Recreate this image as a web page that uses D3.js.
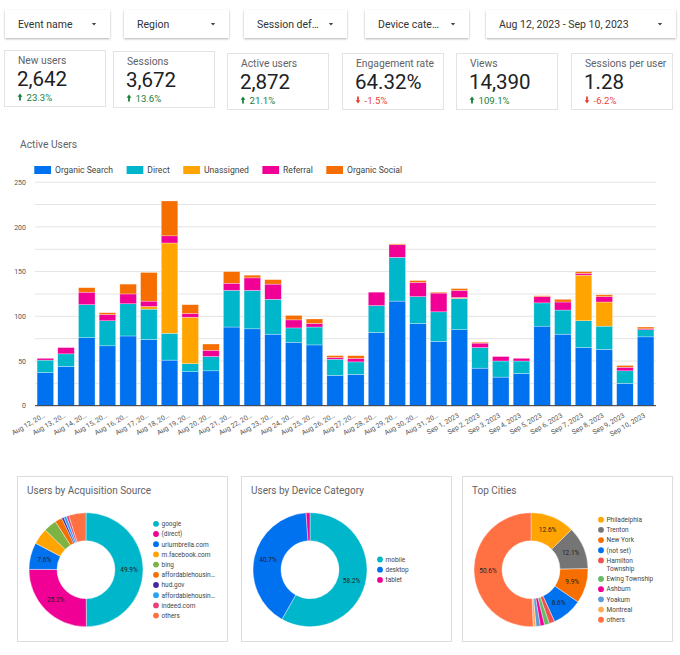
<!DOCTYPE html>
<html>
<head>
<meta charset="utf-8">
<script src="https://cdn.jsdelivr.net/npm/d3@7"></script>
<style>
  body { margin: 0; background: #fff; }
  svg { font-family: Roboto, "Noto Sans", sans-serif; }
</style>
</head>
<body>
<svg id="dash" width="680" height="655"></svg>
<script>
/* ---- data ---- */
const filterLabels = ["Event name", "Region", "Session def…", "Device cate…", "Aug 12, 2023 - Sep 10, 2023"];

const kpiNames = ["New users", "Sessions", "Active users", "Engagement rate", "Views", "Sessions per user"];
const kpiValues = ["2,642", "3,672", "2,872", "64.32%", "14,390", "1.28"];
const kpiDeltas = [23.3, 13.6, 21.1, -1.5, 109.1, -6.2];

const dates = ["Aug 12, 20…", "Aug 13, 20…", "Aug 14, 20…", "Aug 15, 20…", "Aug 16, 20…", "Aug 17, 20…",
  "Aug 18, 20…", "Aug 19, 20…", "Aug 20, 20…", "Aug 21, 20…", "Aug 22, 20…", "Aug 23, 20…", "Aug 24, 20…",
  "Aug 25, 20…", "Aug 26, 20…", "Aug 27, 20…", "Aug 28, 20…", "Aug 29, 20…", "Aug 30, 20…", "Aug 31, 20…",
  "Sep 1, 2023", "Sep 2, 2023", "Sep 3, 2023", "Sep 4, 2023", "Sep 5, 2023", "Sep 6, 2023", "Sep 7, 2023",
  "Sep 8, 2023", "Sep 9, 2023", "Sep 10, 2023"];
const channels = ["Organic Search", "Direct", "Unassigned", "Referral", "Organic Social"];
const organicSearch = [37,44,76,67,78,74,51,38,39,88,86,80,71,68,34,35,82,117,92,72,85,42,32,36,89,80,65,63,25,77];
const direct        = [14,14,37,28,36,34,30, 9,16,41,43,39,16,20,18,14,30,49,30,33,35,23,18,14,26,27,30,26,14, 8];
const unassigned    = [ 0, 0, 0, 0, 0, 3,101,52,0, 0, 0, 0, 0, 0, 0, 0, 0, 0, 0, 0, 1, 0, 0, 0, 0, 0,51,27, 0, 0];
const referral      = [ 2, 7,14, 7,11, 6, 8, 4, 7, 8,14,17, 9, 4, 2, 4,15,14,16,21, 8, 5, 5, 3, 7, 9, 2, 6, 4, 1];
const organicSocial = [ 0, 0, 5, 2,11,32,39,10, 7,13, 3, 5, 5, 5, 2, 3, 0, 1, 2, 1, 2, 1, 0, 0, 1, 3, 2, 2, 2, 2];
const yTicks = [0, 50, 100, 150, 200, 250];

const sourceNames = ["google", "(direct)", "urlumbrella.com", "m.facebook.com", "bing", "affordablehousin…",
  "hud.gov", "affordablehousin…", "indeed.com", "others"];
const sourceShares = [49.9, 25.2, 7.6, 4.6, 3.7, 2.0, 0.6, 0.8, 0.7, 4.9];

const deviceNames = ["mobile", "desktop", "tablet"];
const deviceShares = [58.2, 40.7, 1.1];

const cityNames = ["Philadelphia", "Trenton", "New York", "(not set)", "Hamilton Township", "Ewing Township",
  "Ashburn", "Yoakum", "Montreal", "others"];
const cityShares = [12.6, 12.1, 9.9, 8.6, 1.6, 1.4, 1.2, 1.2, 0.8, 50.6];

/* ---- palettes ---- */
const channelColors = ["#0072f0", "#00b6cb", "#ffa400", "#f10096", "#f66d00"];
const sourceColors = ["#00b6cb", "#f10096", "#0072f0", "#ffa400", "#7cb342", "#f66d00", "#4527a0", "#29a3f5", "#ec407a", "#ff7043"];
const deviceColors = ["#00b6cb", "#0072f0", "#f10096"];
const cityColors = ["#ffa400", "#757575", "#f66d00", "#0072f0", "#ef5350", "#66bb6a", "#f10096", "#5c9bd6", "#ffab5a", "#ff7043"];

const svg = d3.select("#dash");

const defs = svg.append("defs");
defs.append("filter").attr("id", "shadow")
  .attr("x", "-10%").attr("y", "-30%").attr("width", "120%").attr("height", "170%")
  .append("feDropShadow")
  .attr("dx", 0).attr("dy", 1).attr("stdDeviation", 1.2)
  .attr("flood-color", "#000").attr("flood-opacity", 0.3);

/* ---- filter bar ---- */
const filterBoxes = [[5, 110], [124, 229], [244, 347], [365, 469], [486, 676]];
const fb = svg.selectAll("g.filter").data(filterLabels).join("g")
  .attr("class", "filter")
  .attr("transform", (d, i) => `translate(${filterBoxes[i][0]},10)`);
fb.append("rect")
  .attr("width", (d, i) => filterBoxes[i][1] - filterBoxes[i][0])
  .attr("height", 28)
  .attr("fill", "#fff")
  .attr("filter", "url(#shadow)");
fb.append("text")
  .attr("x", 13).attr("y", 17.8)
  .attr("font-size", 10.5).attr("fill", "#333")
  .text(d => d);
fb.append("path")
  .attr("d", (d, i) => {
    const cx = filterBoxes[i][1] - filterBoxes[i][0] - 16;
    return `M${cx - 2.2},13 L${cx + 2.2},13 L${cx},15.6 Z`;
  })
  .attr("fill", "#444");

/* ---- kpi cards ---- */
const cardX = [4, 113, 227, 342, 456, 571];
const cardY = [50, 51, 53, 53, 53, 53];
const cards = svg.selectAll("g.kpi").data(kpiNames).join("g")
  .attr("class", "kpi")
  .attr("transform", (d, i) => `translate(${cardX[i]},${cardY[i]})`);
cards.append("rect")
  .attr("x", 0.5).attr("y", 0.5).attr("width", 101).attr("height", 56)
  .attr("fill", "#fff").attr("stroke", "#e3e3e3");
cards.append("text")
  .attr("x", 14).attr("y", 14.3)
  .attr("font-size", 10.3).attr("fill", "#5f6368")
  .text(d => d);
cards.append("text")
  .attr("x", 13).attr("y", 36)
  .attr("font-size", 20.5).attr("fill", "#202124")
  .text((d, i) => kpiValues[i]);
cards.append("path")
  .attr("d", (d, i) => {
    const cx = 16, b = 50.5;
    return kpiDeltas[i] >= 0
      ? `M${cx},${b - 7} L${cx + 2.4},${b - 3.8} L${cx + 0.9},${b - 3.8} L${cx + 0.9},${b} L${cx - 0.9},${b} L${cx - 0.9},${b - 3.8} L${cx - 2.4},${b - 3.8} Z`
      : `M${cx},${b} L${cx + 2.4},${b - 3.2} L${cx + 0.9},${b - 3.2} L${cx + 0.9},${b - 7} L${cx - 0.9},${b - 7} L${cx - 0.9},${b - 3.2} L${cx - 2.4},${b - 3.2} Z`;
  })
  .attr("fill", (d, i) => kpiDeltas[i] >= 0 ? "#188038" : "#ea4335");
cards.append("text")
  .attr("x", 22.5).attr("y", 50.7)
  .attr("font-size", 9.6)
  .attr("fill", (d, i) => kpiDeltas[i] >= 0 ? "#188038" : "#ea4335")
  .text((d, i) => kpiDeltas[i].toFixed(1) + "%");

/* ---- stacked bar chart ---- */
svg.append("text")
  .attr("x", 20).attr("y", 148)
  .attr("font-size", 10.3).attr("fill", "#5f6368")
  .text("Active Users");

const leg = svg.append("g").attr("transform", "translate(34.3,166)");
let lx = 0;
channels.forEach((k, i) => {
  const g = leg.append("g").attr("transform", `translate(${lx},0)`);
  g.append("rect").attr("width", 16.7).attr("height", 8).attr("fill", channelColors[i]);
  const t = g.append("text")
    .attr("x", 20.7).attr("y", 7.4)
    .attr("font-size", 8.6).attr("fill", "#444")
    .text(k);
  lx += 20.7 + t.node().getComputedTextLength() + 13.5;
});

const rows = dates.map((d, i) => ({
  date: d,
  "Organic Search": organicSearch[i],
  "Direct": direct[i],
  "Unassigned": unassigned[i],
  "Referral": referral[i],
  "Organic Social": organicSocial[i]
}));
const series = d3.stack().keys(channels)(rows);

const x = d3.scaleBand().domain(dates).range([35, 656]).paddingInner(0.2).paddingOuter(0.1);
const y = d3.scaleLinear().domain([0, 250]).range([405.7, 182.2]);

// gridlines every 25
svg.append("g").selectAll("line").data(d3.range(25, 251, 25)).join("line")
  .attr("x1", 35).attr("x2", 656)
  .attr("y1", d => y(d)).attr("y2", d => y(d))
  .attr("stroke", "#e4e4e4").attr("stroke-width", 1);

svg.append("g").selectAll("g").data(series).join("g")
  .attr("fill", (d, i) => channelColors[i])
  .selectAll("rect").data(d => d).join("rect")
  .attr("x", d => x(d.data.date))
  .attr("y", d => y(d[1]))
  .attr("width", x.bandwidth())
  .attr("height", d => Math.max(0, y(d[0]) - y(d[1])))
  .attr("stroke", "#fff").attr("stroke-width", 0.5).attr("stroke-opacity", 0.6);

svg.append("line")
  .attr("x1", 35).attr("x2", 656)
  .attr("y1", y(0)).attr("y2", y(0))
  .attr("stroke", "#333").attr("stroke-width", 1);

const yAxis = d3.axisLeft(y).tickValues(yTicks).tickSize(0).tickPadding(9);
svg.append("g")
  .attr("transform", "translate(35,0)")
  .call(yAxis)
  .call(g => g.select(".domain").remove())
  .selectAll("text")
  .attr("font-size", 7).attr("fill", "#555").attr("font-family", "Roboto, sans-serif");

const xAxis = d3.axisBottom(x).tickSize(0);
svg.append("g")
  .attr("transform", `translate(0,${y(0)})`)
  .call(xAxis)
  .call(g => g.select(".domain").remove())
  .selectAll("text")
  .attr("x", 0).attr("y", 0).attr("dy", "0.35em")
  .attr("transform", "translate(-1,9) rotate(-30)")
  .style("text-anchor", "end")
  .attr("font-size", 6.9).attr("fill", "#555").attr("font-family", "Roboto, sans-serif");

/* ---- donuts ---- */
function drawDonut(px, title, names, shares, colors) {
  const g = svg.append("g").attr("transform", `translate(${px},476)`);
  g.append("rect")
    .attr("x", 0.5).attr("y", 0.5).attr("width", 210).attr("height", 165)
    .attr("fill", "#fff").attr("stroke", "#dcdcdc");
  g.append("text")
    .attr("x", 10).attr("y", 17.5)
    .attr("font-size", 10).attr("fill", "#5f6368")
    .text(title);

  const cx = 69, cy = 93.7;
  const data = names.map((n, i) => ({ n, v: shares[i], c: colors[i] }));
  const arcs = d3.pie().sort(null).value(d => d.v)(data);
  const arc = d3.arc().innerRadius(29).outerRadius(57);
  const labelArc = d3.arc().innerRadius(43).outerRadius(43);

  const dg = g.append("g").attr("transform", `translate(${cx},${cy})`);
  dg.selectAll("path").data(arcs).join("path")
    .attr("d", arc)
    .attr("fill", d => d.data.c)
    .attr("stroke", "#fff").attr("stroke-width", 0.4);
  dg.selectAll("text").data(arcs.filter(d => d.data.v >= 5)).join("text")
    .attr("transform", d => `translate(${labelArc.centroid(d)})`)
    .attr("text-anchor", "middle").attr("dy", "0.35em")
    .attr("font-size", 6.5).attr("fill", "#222")
    .text(d => d.data.v.toFixed(1) + "%");

  // legend, wrapping long names onto two lines
  const lg = g.append("g");
  const items = data.map(d => {
    const it = lg.append("g");
    it.append("circle").attr("r", 2.9).attr("fill", d.c);
    const t = it.append("text").attr("x", 5.5).attr("y", 2.3)
      .attr("font-size", 6.5).attr("fill", "#444").text(d.n);
    let lines = 1;
    if (t.node().getComputedTextLength() > 52 && d.n.includes(" ")) {
      const k = d.n.lastIndexOf(" ");
      t.text(null);
      t.append("tspan").attr("x", 5.5).text(d.n.slice(0, k));
      t.append("tspan").attr("x", 5.5).attr("dy", 8.3).text(d.n.slice(k + 1));
      lines = 2;
    }
    return { it, lines };
  });
  let pos = 0;
  const ys = items.map(d => { const p = pos; pos += 10.2 + (d.lines - 1) * 8.3; return p; });
  const span = ys[ys.length - 1];
  items.forEach((d, i) => d.it.attr("transform", `translate(139,${cy - span / 2 + ys[i]})`));
}

drawDonut(17, "Users by Acquisition Source", sourceNames, sourceShares, sourceColors);
drawDonut(241, "Users by Device Category", deviceNames, deviceShares, deviceColors);
drawDonut(462, "Top Cities", cityNames, cityShares, cityColors);
</script>
</body>
</html>
